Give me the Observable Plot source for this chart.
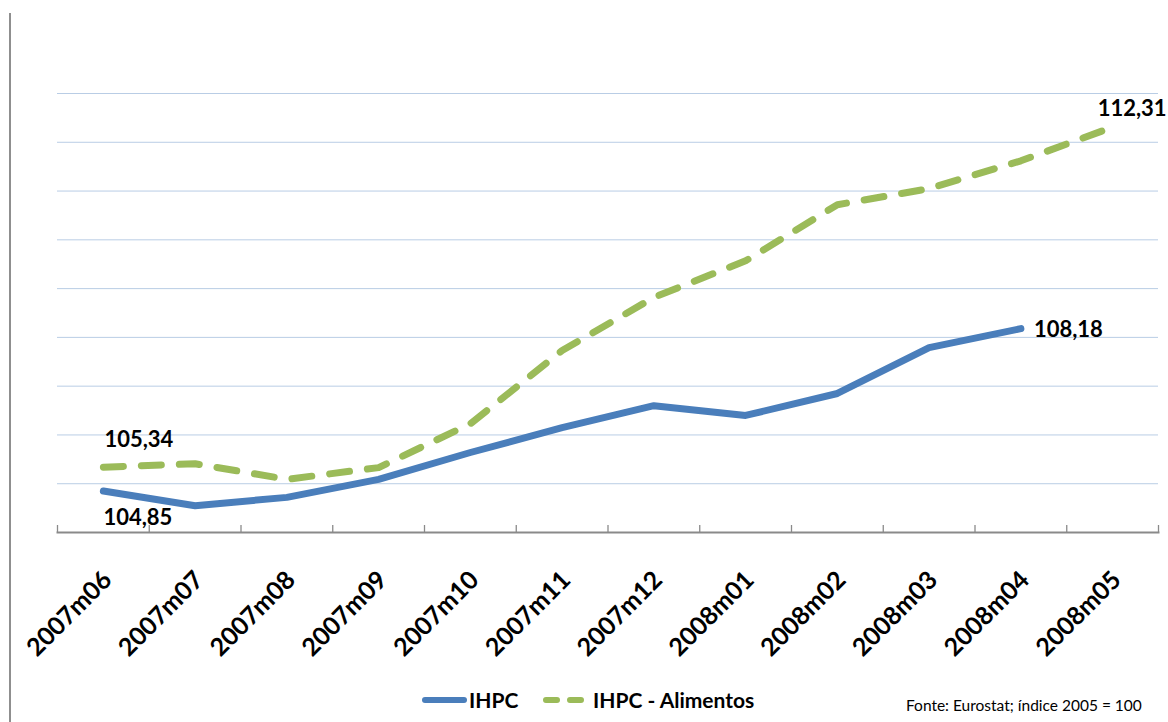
<!DOCTYPE html>
<html>
<head>
<meta charset="utf-8">
<script src="https://cdn.jsdelivr.net/npm/d3@7"></script>
<script src="https://cdn.jsdelivr.net/npm/@observablehq/plot@0.6"></script>
<style>
  html, body { margin: 0; padding: 0; background: #fff; font-family: Lato, "Open Sans", sans-serif; }
  #wrap { position: relative; width: 1168px; height: 722px; overflow: hidden; }
  #vline { position: absolute; left: 9px; top: 13px; width: 2px; height: 709px; background: #8f8f8f; }
  #legend { position: absolute; left: 0; top: 675px; width: 1168px; height: 47px; }
</style>
</head>
<body>
<div id="wrap">
  <div id="chart"></div>
  <div id="legend"></div>
  <div id="vline"></div>
</div>
<script>
const months = ["2007m06","2007m07","2007m08","2007m09","2007m10","2007m11","2007m12","2008m01","2008m02","2008m03","2008m04","2008m05"];
const ihpc = [104.85, 104.55, 104.72, 105.09, 105.64, 106.15, 106.60, 106.40, 106.85, 107.79, 108.18, null];
const alimentos = [105.34, 105.41, 105.09, 105.33, 106.23, 107.73, 108.82, 109.57, 110.72, 111.05, 111.62, 112.31];
const gridValues = [105, 106, 107, 108, 109, 110, 111, 112, 113];
const seriesNames = ["IHPC", "IHPC - Alimentos"];
const sourceText = "Fonte: Eurostat; índice 2005 = 100";

const blue = "#4a7ebb";
const green = "#9bbb59";
const fmt = v => v.toFixed(2).replace(".", ",");

const idx = months.map((m, i) => i);
const boundaries = d3.range(-0.5, months.length, 1);
const ihpcData = idx.filter(i => ihpc[i] != null);

const plot = Plot.plot({
  width: 1168,
  height: 675,
  marginLeft: 57,
  marginRight: 10,
  marginTop: 93,
  marginBottom: 143,
  style: { fontFamily: "Lato, 'Open Sans', sans-serif", background: "#fff" },
  x: { type: "linear", domain: [-0.5, months.length - 0.5], axis: null },
  y: { domain: [104, 113], axis: null },
  marks: [
    Plot.gridY(gridValues, { stroke: "#b9cde5", strokeOpacity: 1, strokeWidth: 1 }),
    Plot.ruleX(boundaries, { x: d => d, stroke: "#8a8a8a", strokeWidth: 1.3, insetTop: 432 }),
    Plot.frame({ anchor: "bottom", stroke: "#8a8a8a", strokeWidth: 2 }),
    Plot.line(ihpcData, { x: i => i, y: i => ihpc[i], stroke: blue, strokeWidth: 7, strokeLinecap: "round", strokeLinejoin: "round" }),
    Plot.line(idx, { x: i => i, y: i => alimentos[i], stroke: green, strokeWidth: 7, strokeDasharray: "20,18", strokeLinecap: "round", strokeLinejoin: "round" }),
    Plot.text(idx, { x: i => i, frameAnchor: "bottom", text: i => months[i], rotate: -45, textAnchor: "end", lineAnchor: "bottom", dx: 10, dy: 49, fontSize: 25, fontWeight: "bold", fill: "#000" }),
    // value labels
    Plot.text([0], { x: i => i, y: i => alimentos[i], text: i => fmt(alimentos[i]), textAnchor: "start", lineAnchor: "bottom", dx: 1, dy: -20, fontSize: 22, fontWeight: "bold", fill: "#000" }),
    Plot.text([0], { x: i => i, y: i => ihpc[i], text: i => fmt(ihpc[i]), textAnchor: "start", lineAnchor: "top", dx: 0, dy: 18, fontSize: 22, fontWeight: "bold", fill: "#000" }),
    Plot.text([10], { x: i => i, y: i => ihpc[i], text: i => fmt(ihpc[i]), textAnchor: "start", lineAnchor: "middle", dx: 13, dy: 1, fontSize: 22, fontWeight: "bold", fill: "#000" }),
    Plot.text([11], { x: i => i, y: i => alimentos[i], text: i => fmt(alimentos[i]), textAnchor: "start", lineAnchor: "bottom", dx: -15, dy: -11, fontSize: 22, fontWeight: "bold", fill: "#000" })
  ]
});
document.getElementById("chart").appendChild(plot);

// Legend and source
const lg = d3.select("#legend").append("svg").attr("width", 1168).attr("height", 47)
  .style("font-family", "Lato, 'Open Sans', sans-serif");
lg.append("line").attr("x1", 425).attr("x2", 464).attr("y1", 25).attr("y2", 25)
  .attr("stroke", blue).attr("stroke-width", 6).attr("stroke-linecap", "round");
lg.append("text").attr("x", 469).attr("y", 25).attr("dy", "0.36em")
  .attr("font-size", 21).attr("font-weight", "bold").text(seriesNames[0]);
lg.append("line").attr("x1", 546).attr("x2", 581).attr("y1", 25).attr("y2", 25)
  .attr("stroke", green).attr("stroke-width", 6).attr("stroke-linecap", "round")
  .attr("stroke-dasharray", "11,13");
lg.append("text").attr("x", 593).attr("y", 25).attr("dy", "0.36em")
  .attr("font-size", 21).attr("font-weight", "bold").text(seriesNames[1]);
lg.append("text").attr("x", 906).attr("y", 36)
  .attr("font-size", 15.5).attr("fill", "#000").text(sourceText);
</script>
</body>
</html>
